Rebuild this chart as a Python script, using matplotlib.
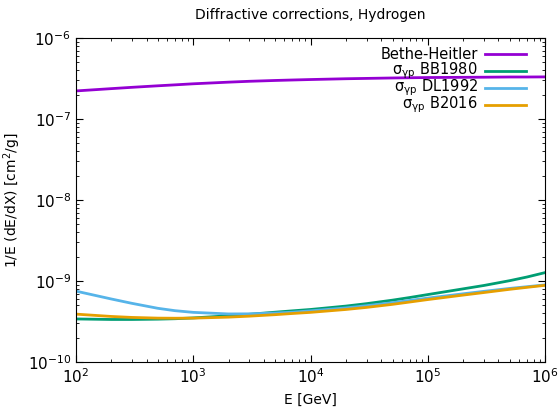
import matplotlib.pyplot as plt
import numpy as np
from matplotlib.ticker import LogLocator, NullFormatter

# energies [GeV]
E = np.array([1e2, 2e2, 3e2, 5e2, 7e2, 1e3, 2e3, 3e3, 5e3, 7e3, 1e4, 2e4, 3e4, 5e4, 7e4,
              1e5, 2e5, 3e5, 5e5, 7e5, 1e6])

# 1/E dE/dX [cm^2/g]
bethe_heitler = 1e-7 * np.array([2.22, 2.37, 2.46, 2.57, 2.64, 2.72, 2.85, 2.92, 2.99, 3.03, 3.07,
                                 3.14, 3.17, 3.21, 3.23, 3.25, 3.27, 3.28, 3.30, 3.30, 3.31])
bb1980 = 1e-10 * np.array([3.40, 3.35, 3.35, 3.38, 3.42, 3.50, 3.72, 3.88, 4.12, 4.28, 4.45,
                           4.90, 5.25, 5.80, 6.25, 6.80, 8.00, 8.80, 10.1, 11.2, 12.7])
dl1992 = 1e-10 * np.array([7.5, 6.0, 5.3, 4.6, 4.3, 4.1, 3.92, 3.93, 4.02, 4.12, 4.28,
                           4.65, 4.95, 5.40, 5.75, 6.15, 6.95, 7.45, 8.10, 8.50, 8.95])
b2016 = 1e-10 * np.array([3.90, 3.65, 3.55, 3.48, 3.47, 3.48, 3.58, 3.68, 3.84, 3.97, 4.10,
                          4.45, 4.72, 5.15, 5.50, 5.90, 6.70, 7.20, 7.90, 8.35, 8.85])

labels = ['Bethe-Heitler', r'σ$_{\mathregular{γp}}$ BB1980',
          r'σ$_{\mathregular{γp}}$ DL1992', r'σ$_{\mathregular{γp}}$ B2016']
colors = ['#9400D3', '#009E73', '#56B4E9', '#E69F00']

fig = plt.figure(figsize=(5.58, 4.13), dpi=100)
ax = fig.add_axes([0.136, 0.1235, 0.841, 0.7845])

for y, c in zip([bethe_heitler, bb1980, dl1992, b2016], colors):
    ax.plot(E, y, color=c, lw=2)

ax.set_xscale('log')
ax.set_yscale('log')
ax.set_xlim(1e2, 1e6)
ax.set_ylim(1e-10, 1e-6)

ax.xaxis.set_minor_locator(LogLocator(base=10, subs=np.arange(2, 10)))
ax.yaxis.set_minor_locator(LogLocator(base=10, subs=np.arange(2, 10)))
ax.xaxis.set_minor_formatter(NullFormatter())
ax.yaxis.set_minor_formatter(NullFormatter())
ax.tick_params(which='both', direction='in', top=True, right=True, labelsize=11)
ax.tick_params(which='major', length=5)
ax.tick_params(which='minor', length=2.5)

ax.set_xlabel('E [GeV]', fontsize=10, labelpad=5)
ax.set_ylabel('1/E (dE/dX) [cm$^2$/g]', fontsize=10, labelpad=3)
ax.set_title('Diffractive corrections, Hydrogen', fontsize=10, pad=14)

# gnuplot-like key: text right aligned, sample line to its right
for i, (lab, c) in enumerate(zip(labels, colors)):
    yy = 0.95 - i * 0.052
    ax.text(0.856, yy, lab, transform=ax.transAxes, ha='right', va='center', fontsize=10.5)
    ax.plot([0.871, 0.96], [yy, yy], color=c, lw=2, transform=ax.transAxes)

fig.savefig('out.png', dpi=100)
